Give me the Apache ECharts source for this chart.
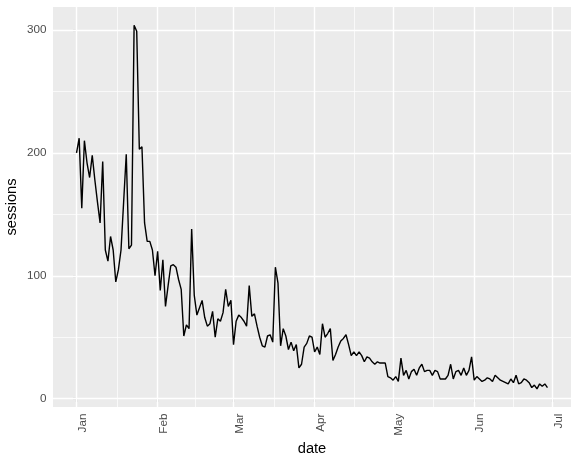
<!DOCTYPE html>
<html><head><meta charset="utf-8">
<script src="https://cdn.jsdelivr.net/npm/echarts@6/dist/echarts.min.js"></script>
<style>html,body{margin:0;padding:0;background:#fff}#c{width:579px;height:463px}</style>
</head><body><div id="c"></div>
<script>
// first date of the daily series
const startDate = '2016-01-01';
// daily sessions
const sessions = [
200,212,155,210,192,180,198,178,160,143,193,121,112,132,121,95,105,121,160,199,
122,125,304,299,203,205,143,128,128,121,100,120,88,113,75,92,108,109,107,97,
89,51,60,57,138,84,68,74,80,66,59,61,71,50,65,63,70,89,75,80,
44,63,68,66,63,59,92,67,69,59,50,43,42,51,52,46,107,94,43,57,
51,40,46,39,44,25,28,42,45,51,50,38,42,36,61,50,53,57,31,36,
42,47,49,52,44,35,38,35,38,35,30,34,33,30,28,30,29,29,29,18,
17,15,18,14,33,19,23,16,22,24,19,25,28,22,23,23,19,23,22,16,
16,16,19,28,16,22,23,19,25,19,23,34,15,18,16,14,15,17,16,14,
19,17,15,14,13,12,16,13,19,12,13,16,15,13,9,11,8,12,10,12,9
];
const monthTicks = ['2016-01-01','2016-02-01','2016-03-01','2016-04-01','2016-05-01','2016-06-01','2016-07-01'];
const monthLabels = ['Jan','Feb','Mar','Apr','May','Jun','Jul'];
const yTicks = [0,100,200,300];
const yMinor = [50,150,250];

const DAY = 86400000;
function toTs(s){ const p = s.split('-'); return Date.UTC(+p[0], +p[1]-1, +p[2]); }
const t0 = toTs(startDate);
// x positions are days since startDate
const data = sessions.map((v,i)=>[i, v]);
const monthX = monthTicks.map(s=>Math.round((toTs(s)-t0)/DAY));
const minorX = monthX.slice(0,-1).map((t,i)=>(t+monthX[i+1])/2);

const x0 = 0, x1 = sessions.length-1;
const xSpan = x1 - x0;
const yLo = Math.min(...sessions), yHi = Math.max(...sessions);
const ySpan = yHi - yLo;

const font = 'Liberation Sans, Arial, Helvetica, sans-serif';
const gridLines = [];
monthX.forEach(t=>gridLines.push({xAxis:t, lineStyle:{color:'#fff', width:1.4, type:'solid'}}));
minorX.forEach(t=>gridLines.push({xAxis:t, lineStyle:{color:'#fff', width:0.7, type:'solid'}}));
yTicks.forEach(v=>gridLines.push({yAxis:v, lineStyle:{color:'#fff', width:1.4, type:'solid'}}));
yMinor.forEach(v=>gridLines.push({yAxis:v, lineStyle:{color:'#fff', width:0.7, type:'solid'}}));

const chart = echarts.init(document.getElementById('c'), null, {renderer:'canvas'});
chart.setOption({
  animation:false,
  backgroundColor:'#ffffff',
  grid:{left:53, right:8, top:7, bottom:56, show:true, backgroundColor:'#EBEBEB', borderWidth:0,
        containLabel:false, outerBoundsMode:'none'},
  xAxis:{
    type:'value', min:x0 - 0.05*xSpan, max:x1 + 0.05*xSpan,
    axisLine:{show:false},
    axisTick:{show:true, customValues:monthX, length:3.7, lineStyle:{color:'#333333', width:1.1}},
    axisLabel:{show:true, customValues:monthX, rotate:90, margin:6.6, color:'#4D4D4D', fontSize:11.7, fontFamily:font,
      verticalAlign:'top',
      formatter:function(v){ const i = monthX.indexOf(Math.round(v)); return i>=0?monthLabels[i]:''; }},
    splitLine:{show:false},
    name:'date', nameLocation:'middle', nameGap:34, nameMoveOverlap:false,
    nameTextStyle:{color:'#000', fontSize:14.7, fontFamily:font}
  },
  yAxis:{
    type:'value', min:yLo - 0.05*ySpan, max:yHi + 0.05*ySpan,
    axisLine:{show:false},
    axisTick:{show:true, customValues:yTicks, length:3.7, lineStyle:{color:'#333333', width:1.1}},
    axisLabel:{show:true, customValues:yTicks, margin:6.6, color:'#4D4D4D', fontSize:11.7, fontFamily:font},
    splitLine:{show:false},
    name:'sessions', nameLocation:'middle', nameGap:34, nameRotate:90, nameMoveOverlap:false,
    nameTextStyle:{color:'#000', fontSize:14.7, fontFamily:font}
  },
  series:[
    {type:'line', data:[], z:1, silent:true,
     markLine:{silent:true, z:1, symbol:['none','none'], label:{show:false}, emphasis:{disabled:true}, animation:false, data:gridLines}},
    {type:'line', data:data, z:10, showSymbol:false, symbol:'none', clip:false,
     lineStyle:{color:'#000', width:1.4}, emphasis:{disabled:true}}
  ]
});
</script></body></html>
